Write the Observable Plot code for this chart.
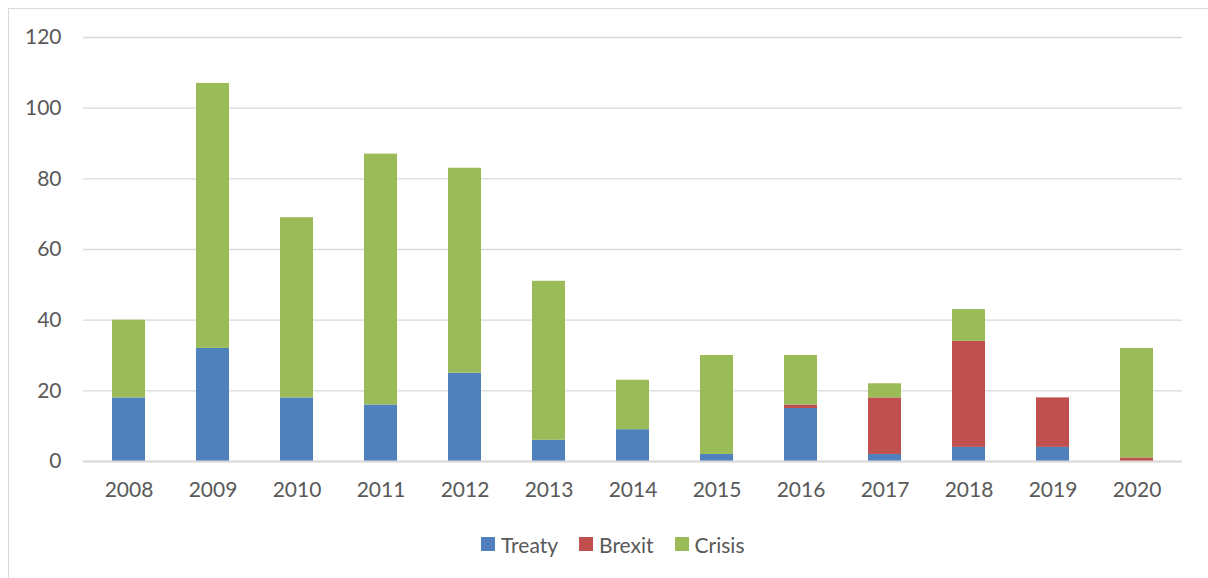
<!DOCTYPE html>
<html><head><meta charset="utf-8">
<script src="https://cdn.jsdelivr.net/npm/d3@7"></script>
<script src="https://cdn.jsdelivr.net/npm/@observablehq/plot@0.6"></script>
<style>
body{margin:0;background:#fff;font-family:Lato,"Open Sans",sans-serif;}
#frame{position:absolute;left:8px;top:8px;width:1300px;height:700px;border:1px solid #d9d9d9;box-sizing:border-box;}
#chart{position:absolute;left:0;top:0;}
#legend{position:absolute;left:481px;top:530px;height:28px;display:flex;align-items:center;gap:21px;font-size:21px;color:#595959;white-space:nowrap;}
#legend span.item{display:flex;align-items:center;gap:6px;}
#legend span.sw{display:inline-block;width:14px;height:14px;}
</style></head>
<body>
<div id="frame"></div>
<div id="chart"></div>
<div id="legend"></div>
<script>
const years = ["2008","2009","2010","2011","2012","2013","2014","2015","2016","2017","2018","2019","2020"];
const series = ["Treaty","Brexit","Crisis"];
const colors = ["#4F81BD","#C0504D","#9BBB59"];
const treaty = [18,32,18,16,25,6,9,2,15,2,4,4,0];
const brexit = [0,0,0,0,0,0,0,0,1,16,30,14,1];
const crisis = [22,75,51,71,58,45,14,28,14,4,9,0,31];
const yTicks = [0,20,40,60,80,100,120];

const valuesBySeries = {Treaty: treaty, Brexit: brexit, Crisis: crisis};
const data = [];
series.forEach(s => years.forEach((y,i) => data.push({year:y, series:s, value:valuesBySeries[s][i]})));

const chart = Plot.plot({
  width: 1208, height: 510,
  marginLeft: 83, marginRight: 26, marginTop: 37, marginBottom: 49,
  style: {fontFamily: "Lato, 'Open Sans', sans-serif", fontSize: "21px", color: "#595959", background: "transparent"},
  x: {domain: years, paddingInner: 0.61, paddingOuter: 0.305, label: null},
  y: {domain: [0,120], label: null},
  color: {domain: series, range: colors},
  marks: [
    Plot.gridY(yTicks, {stroke: "#d9d9d9", strokeOpacity: 1, strokeWidth: 1.3}),
    Plot.barY(data, {x: "year", y: "value", fill: "series", order: series}),
    Plot.ruleY([0], {stroke: "#d9d9d9", strokeWidth: 2}),
    Plot.axisY(yTicks, {tickSize: 0, tickPadding: 22, fill: "#595959", label: null}),
    Plot.axisX({tickSize: 0, tickPadding: 21, fill: "#595959", label: null})
  ]
});
document.getElementById("chart").appendChild(chart);

const leg = document.getElementById("legend");
series.forEach((s,i) => {
  const it = document.createElement("span"); it.className = "item";
  const sw = document.createElement("span"); sw.className = "sw"; sw.style.background = colors[i];
  const t = document.createElement("span"); t.textContent = s;
  it.appendChild(sw); it.appendChild(t); leg.appendChild(it);
});
</script>
</body></html>
